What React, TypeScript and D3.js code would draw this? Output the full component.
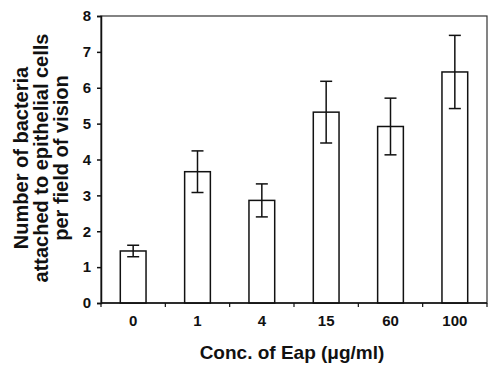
import React, { useEffect, useRef } from 'react';
import * as d3 from 'd3';

const concentrations = ['0', '1', '4', '15', '60', '100'];
const meanBacteria = [1.45, 3.66, 2.86, 5.32, 4.92, 6.44];
const errorBacteria = [0.16, 0.58, 0.46, 0.86, 0.79, 1.02];
const yTicks = [0, 1, 2, 3, 4, 5, 6, 7, 8];

const App = () => {
  const chartRef = useRef<SVGSVGElement>(null);

  useEffect(() => {
    if (!chartRef.current) return;
    const svg = d3.select(chartRef.current);
    svg.selectAll('*').remove();

    const margin = { top: 16, right: 1, bottom: 64, left: 101 };
    const width = 488 - margin.left - margin.right;
    const height = 367 - margin.top - margin.bottom;
    const font = 'Liberation Sans, Arial, sans-serif';

    const xScale = d3.scaleBand<string>()
      .domain(concentrations)
      .range([0, width])
      .paddingInner(0.6)
      .paddingOuter(0.3);

    const yScale = d3.scaleLinear()
      .domain([0, 8])
      .range([height, 0]);

    const g = svg.append('g')
      .attr('transform', `translate(${margin.left},${margin.top})`);

    // frame
    g.append('rect')
      .attr('x', 0).attr('y', 0)
      .attr('width', width).attr('height', height)
      .attr('fill', 'none')
      .attr('stroke', '#333')
      .attr('stroke-width', 1.2);

    // bars
    const data = concentrations.map((c, i) => ({ c, m: meanBacteria[i], e: errorBacteria[i] }));
    g.selectAll('rect.bar')
      .data(data)
      .enter()
      .append('rect')
      .attr('class', 'bar')
      .attr('x', d => xScale(d.c)!)
      .attr('y', d => yScale(d.m))
      .attr('width', xScale.bandwidth())
      .attr('height', d => height - yScale(d.m))
      .attr('fill', 'white')
      .attr('stroke', '#111')
      .attr('stroke-width', 1.5);

    // error bars
    const err = g.selectAll('g.err').data(data).enter().append('g')
      .attr('transform', d => `translate(${xScale(d.c)! + xScale.bandwidth() / 2},0)`)
      .attr('stroke', '#111')
      .attr('stroke-width', 1.5);
    err.append('line')
      .attr('y1', d => yScale(d.m + d.e))
      .attr('y2', d => yScale(d.m - d.e));
    err.append('line')
      .attr('x1', -6).attr('x2', 6)
      .attr('y1', d => yScale(d.m + d.e))
      .attr('y2', d => yScale(d.m + d.e));
    err.append('line')
      .attr('x1', -6).attr('x2', 6)
      .attr('y1', d => yScale(d.m - d.e))
      .attr('y2', d => yScale(d.m - d.e));

    // y axis
    const yAxis = g.append('g')
      .call(d3.axisLeft(yScale).tickValues(yTicks).tickSize(4).tickPadding(6).tickFormat(d3.format('.0f')));
    yAxis.select('.domain').attr('stroke', '#111').attr('stroke-width', 1.5);
    yAxis.selectAll('line').attr('stroke', '#111').attr('stroke-width', 1.5);
    yAxis.selectAll('text')
      .attr('font-family', font)
      .attr('font-weight', 'bold')
      .attr('font-size', 15)
      .attr('fill', '#111');

    // x axis with ticks at band boundaries
    const xAxis = g.append('g').attr('transform', `translate(0,${height})`);
    xAxis.append('line')
      .attr('x1', 0).attr('x2', width)
      .attr('stroke', '#111').attr('stroke-width', 1.5);
    const step = width / concentrations.length;
    const boundaries = d3.range(concentrations.length + 1).map(i => i * step);
    xAxis.selectAll('line.tick')
      .data(boundaries)
      .enter()
      .append('line')
      .attr('class', 'tick')
      .attr('x1', d => d).attr('x2', d => d)
      .attr('y1', 0).attr('y2', 4)
      .attr('stroke', '#111').attr('stroke-width', 1.2);
    xAxis.selectAll('text')
      .data(concentrations)
      .enter()
      .append('text')
      .attr('x', d => xScale(d)! + xScale.bandwidth() / 2)
      .attr('y', 23)
      .attr('text-anchor', 'middle')
      .attr('font-family', font)
      .attr('font-weight', 'bold')
      .attr('font-size', 15)
      .attr('fill', '#111')
      .text(d => d);

    // x title
    svg.append('text')
      .attr('x', margin.left + width / 2 - 2)
      .attr('y', 359)
      .attr('text-anchor', 'middle')
      .attr('font-family', font)
      .attr('font-weight', 'bold')
      .attr('font-size', 19)
      .attr('fill', '#111')
      .text('Conc. of Eap (μg/ml)');

    // y title
    const titleLines = ['Number of bacteria', 'attached to epithelial cells', 'per field of vision'];
    const yt = svg.append('text')
      .attr('transform', `translate(0,${158}) rotate(-90)`)
      .attr('text-anchor', 'middle')
      .attr('font-family', font)
      .attr('font-weight', 'bold')
      .attr('font-size', 20)
      .attr('fill', '#111');
    titleLines.forEach((t, i) => {
      yt.append('tspan')
        .attr('x', 0)
        .attr('y', 28 + i * 20)
        .text(t);
    });
  }, []);

  return (
    <svg ref={chartRef} width={488} height={367}
      style={{ position: 'absolute', left: 0, top: 0, background: 'white' }} />
  );
};

export default App;
